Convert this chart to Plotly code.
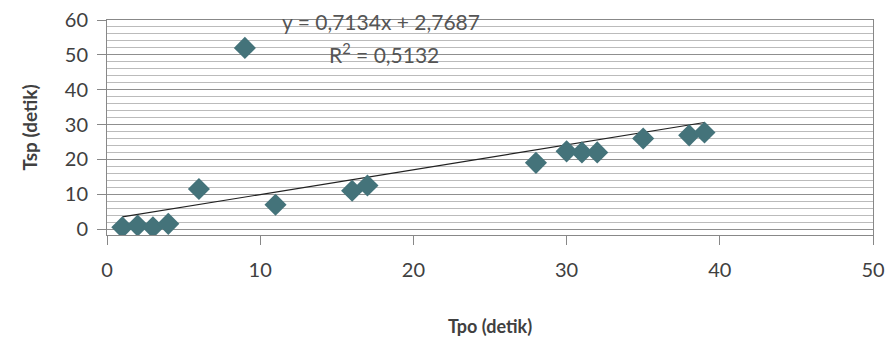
import plotly.graph_objects as go

tpo = [1, 2, 3, 4, 6, 9, 11, 16, 17, 28, 30, 31, 32, 35, 38, 39]
tsp = [0.5, 1.0, 0.5, 1.5, 11.5, 52.0, 7.0, 11.0, 12.5, 19.0, 22.3, 22.0, 22.0, 26.0, 26.9, 27.7]
slope = 0.7134
intercept = 2.7687
r2 = 0.5132
x_ticks = [0, 10, 20, 30, 40, 50]
y_ticks = [0, 10, 20, 30, 40, 50, 60]

FONT = "Lato"
fig = go.Figure()

trend_x = [min(tpo), max(tpo)]
trend_y = [slope * v + intercept for v in trend_x]
fig.add_trace(go.Scatter(x=trend_x, y=trend_y, mode="lines",
                         line=dict(color="#222222", width=1.2), showlegend=False))
fig.add_trace(go.Scatter(x=tpo, y=tsp, mode="markers",
                         marker=dict(symbol="diamond", size=17, color="#44737a",
                                     line=dict(width=0)),
                         showlegend=False))

fig.add_annotation(x=17.9, y=59.6, xref="x", yref="y", xanchor="center", yanchor="middle",
                   text="y = " + f"{slope:.4f}".replace(".", ",") + "x + " + f"{intercept:.4f}".replace(".", ","),
                   showarrow=False, font=dict(family=FONT, size=21, color="#555555"))
fig.add_annotation(x=18.1, y=50.6, xref="x", yref="y", xanchor="center", yanchor="middle",
                   text="R<sup>2</sup> = " + f"{r2:.4f}".replace(".", ","),
                   showarrow=False, font=dict(family=FONT, size=21, color="#555555"))

fig.update_layout(
    width=887, height=344,
    margin=dict(l=107, r=14, t=20, b=109),
    paper_bgcolor="white", plot_bgcolor="white",
    font=dict(family=FONT, color="#404040"),
)
fig.update_xaxes(range=[0, 50], tickvals=x_ticks, ticks="outside", ticklen=9,
                 tickcolor="#888888", showline=True, linecolor="#888888", mirror=True,
                 showgrid=False, zeroline=False, automargin=False,
                 ticklabelstandoff=8,
                 tickfont=dict(family=FONT, size=20, color="#404040"),
                 title=dict(text="<b>Tpo (detik)</b>", font=dict(family=FONT, size=18, color="#404040"),
                            standoff=40))
fig.update_yaxes(range=[-1.7, 60], tickvals=y_ticks, ticks="outside", ticklen=9,
                 tickcolor="#888888", showline=True, linecolor="#888888", mirror=True,
                 showgrid=True, gridcolor="#8f8f8f", gridwidth=1, zeroline=False,
                 automargin=False, ticklabelstandoff=5,
                 minor=dict(dtick=2, showgrid=True, gridcolor="#bbbbbb", gridwidth=1, ticks=""),
                 tickfont=dict(family=FONT, size=20, color="#404040"),
                 title=dict(text="<b>Tsp (detik)</b>", font=dict(family=FONT, size=19, color="#404040"),
                            standoff=22))

fig.write_html("out.html", config={"displayModeBar": False},
               post_script="document.body.style.margin='0';document.body.style.overflow='hidden';")
